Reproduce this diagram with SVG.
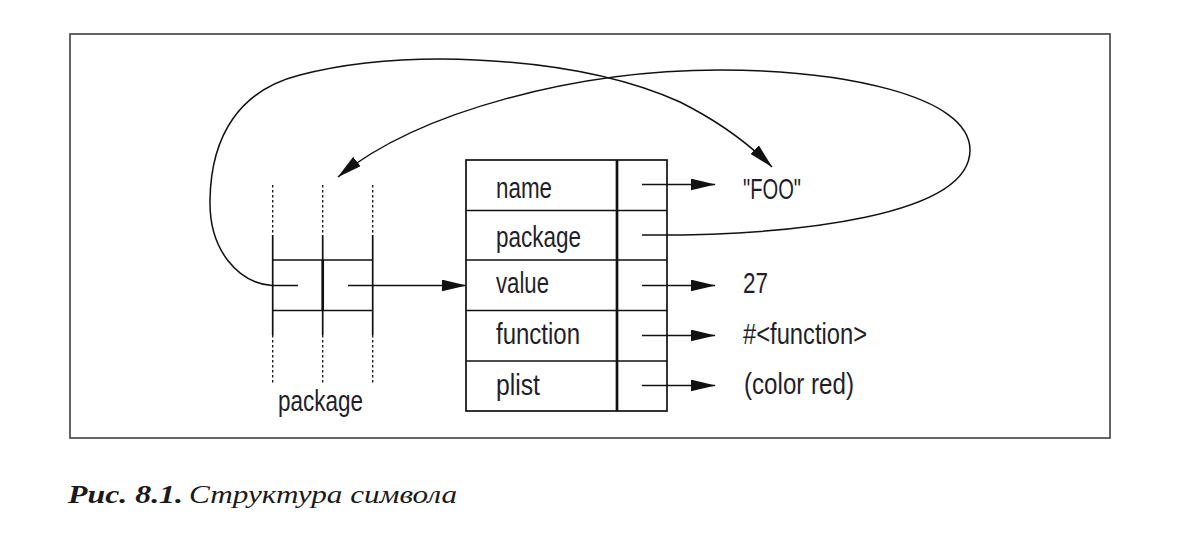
<svg xmlns="http://www.w3.org/2000/svg" width="1188" height="539" viewBox="0 0 1188 539">
<defs>
<style>
.frame{fill:none;stroke:#4a4a4a;stroke-width:1.7}
.cell{fill:none;stroke:#111;stroke-width:1.7}
.bold{stroke:#111;stroke-width:2.7}
.dot{stroke:#111;stroke-width:1.3;stroke-dasharray:2.5 2.5}
.arr{fill:none;stroke:#111;stroke-width:1.5;marker-end:url(#ah)}
.lbl{font-family:"Liberation Sans Narrow","Liberation Sans",Arial,sans-serif;font-size:29px;fill:#1f1f2c}
.cap{font-family:"Liberation Serif","Times New Roman",serif;font-size:26px;fill:#1a1a1a}
</style>
<marker id="ah" markerUnits="userSpaceOnUse" markerWidth="25" markerHeight="12" viewBox="0 0 24 11.5" refX="23.5" refY="5.75" orient="auto">
<path d="M0,0 L24,5.75 L0,11.5 z" fill="#111"/>
</marker>
</defs>
<rect fill="#fff" x="0" y="0" width="1188" height="539"/>
<rect class="frame" x="70" y="34" width="1040" height="404"/>

<g id="symbol">
<rect class="cell" x="466" y="160" width="201" height="251"/>
<line class="bold" x1="617" y1="160" x2="617" y2="411"/>
<line class="cell" x1="466" y1="210.5" x2="667" y2="210.5"/>
<line class="cell" x1="466" y1="260" x2="667" y2="260"/>
<line class="cell" x1="466" y1="310.5" x2="667" y2="310.5"/>
<line class="cell" x1="466" y1="361" x2="667" y2="361"/>
<text class="lbl" x="496" y="198" textLength="56" lengthAdjust="spacingAndGlyphs">name</text>
<text class="lbl" x="496" y="247" textLength="85" lengthAdjust="spacingAndGlyphs">package</text>
<text class="lbl" x="496" y="293" textLength="53" lengthAdjust="spacingAndGlyphs">value</text>
<text class="lbl" x="496" y="344" textLength="84" lengthAdjust="spacingAndGlyphs">function</text>
<text class="lbl" x="496" y="395" textLength="44" lengthAdjust="spacingAndGlyphs">plist</text>
</g>

<g id="package-cell">
<line class="dot" x1="272.7" y1="185" x2="272.7" y2="235"/>
<line class="dot" x1="322.7" y1="185" x2="322.7" y2="235"/>
<line class="dot" x1="372.7" y1="185" x2="372.7" y2="235"/>
<line class="cell" x1="272.7" y1="235" x2="272.7" y2="335"/>
<line class="cell" x1="322.7" y1="235" x2="322.7" y2="260"/>
<line class="bold" x1="322.7" y1="260" x2="322.7" y2="310.5"/>
<line class="cell" x1="322.7" y1="310.5" x2="322.7" y2="335"/>
<line class="cell" x1="372.7" y1="235" x2="372.7" y2="335"/>
<line class="dot" x1="272.7" y1="335" x2="272.7" y2="385"/>
<line class="dot" x1="322.7" y1="335" x2="322.7" y2="385"/>
<line class="dot" x1="372.7" y1="335" x2="372.7" y2="385"/>
<line class="cell" x1="272.7" y1="260" x2="372.7" y2="260"/>
<line class="cell" x1="272.7" y1="310.5" x2="372.7" y2="310.5"/>
<text class="lbl" x="278" y="410.5" textLength="85" lengthAdjust="spacingAndGlyphs">package</text>
</g>

<g id="val-foo"><text class="lbl" x="743" y="199" textLength="58" lengthAdjust="spacingAndGlyphs">"FOO"</text></g>
<g id="val-27"><text class="lbl" x="743" y="293" textLength="25" lengthAdjust="spacingAndGlyphs">27</text></g>
<g id="val-function"><text class="lbl" x="743" y="344" textLength="124" lengthAdjust="spacingAndGlyphs">#&lt;function&gt;</text></g>
<g id="val-plist"><text class="lbl" x="744" y="394" textLength="110" lengthAdjust="spacingAndGlyphs">(color red)</text></g>

<g id="connectors">
<line class="arr" x1="642" y1="184.5" x2="715" y2="184.5"/>
<line class="arr" x1="642" y1="285.5" x2="715" y2="285.5"/>
<line class="arr" x1="642" y1="335.5" x2="715" y2="335.5"/>
<line class="arr" x1="642" y1="385.5" x2="715" y2="385.5"/>
<line class="arr" x1="348" y1="285.5" x2="466" y2="285.5"/>
<path class="arr" d="M298,285.5 L272,285.5 C238,283 209,250 210,200 C211,135 240,90 300,75 C350,62 400,59 440,59 C540,60 620,75 680,102 C720,122 750,145 772,167"/>
<path class="arr" d="M642,235 C800,236 970,215 970,150 C970,95 840,70 720,70 C580,70 420,110 338,177"/>
</g>

<g id="caption">
<text class="cap" x="68" y="503"><tspan font-weight="bold" font-style="italic" textLength="115" lengthAdjust="spacingAndGlyphs">Рис. 8.1.</tspan><tspan x="189" font-style="italic" textLength="268" lengthAdjust="spacingAndGlyphs">Структура символа</tspan></text>
</g>
</svg>
